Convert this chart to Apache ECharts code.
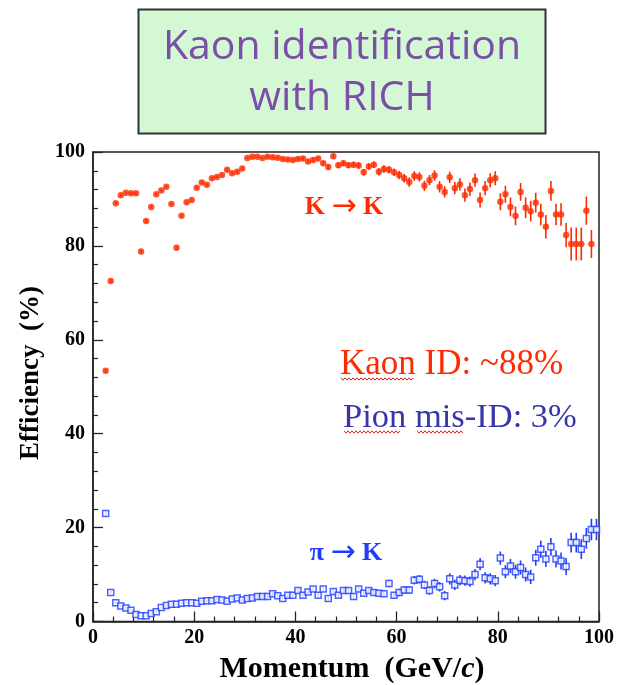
<!DOCTYPE html>
<html>
<head>
<meta charset="utf-8">
<script src="https://cdn.jsdelivr.net/npm/echarts/dist/echarts.min.js"></script>
<style>
html,body{margin:0;padding:0;background:#fff;}
#chart{width:617px;height:685px;}
</style>
</head>
<body>
<div id="chart"></div>
<script>
// ---- data ----
var momentum = [2.5,3.5,4.5,5.5,6.5,7.5,8.5,9.5,10.5,11.5,12.5,13.5,14.5,15.5,16.5,17.5,18.5,19.5,
  20.5,21.5,22.5,23.5,24.5,25.5,26.5,27.5,28.5,29.5,30.5,31.5,32.5,33.5,34.5,35.5,36.5,37.5,38.5,39.5,
  40.5,41.5,42.5,43.5,44.5,45.5,46.5,47.5,48.5,49.5,50.5,51.5,52.5,53.5,54.5,55.5,56.5,57.5,58.5,59.5,
  60.5,61.5,62.5,63.5,64.5,65.5,66.5,67.5,68.5,69.5,70.5,71.5,72.5,73.5,74.5,75.5,76.5,77.5,78.5,79.5,
  80.5,81.5,82.5,83.5,84.5,85.5,86.5,87.5,88.5,89.5,90.5,91.5,92.5,93.5,94.5,95.5,96.5,97.5,98.5,99.5];

var kaonEff = [53.4,72.5,89.1,90.8,91.3,91.2,91.2,78.8,85.3,88.3,91.0,91.8,92.6,88.9,79.6,86.4,89.3,89.8,
  92.4,93.5,93.0,94.4,94.7,95.1,96.2,95.5,95.8,96.5,98.7,99.0,99.0,98.7,99.0,98.9,98.8,98.5,98.4,98.3,
  98.5,98.6,98.0,98.3,98.6,97.6,96.8,99.1,97.2,97.6,97.2,97.3,97.1,95.7,96.9,97.3,95.8,96.4,96.2,95.7,
  95.1,94.4,93.6,94.9,94.7,92.8,94.0,95.0,92.6,91.5,94.6,92.3,93.1,90.8,92.1,94.0,89.8,92.3,94.0,94.4,
  89.4,91.0,88.3,86.4,91.5,88.1,87.4,89.2,86.7,84.1,91.7,86.7,86.7,82.3,80.4,80.4,80.4,87.5,80.4,null];

var kaonErr = [0.4,0.4,0.3,0.3,0.3,0.3,0.3,0.4,0.4,0.3,0.3,0.3,0.3,0.3,0.4,0.3,0.3,0.3,
  0.3,0.3,0.3,0.3,0.3,0.3,0.3,0.3,0.3,0.3,0.2,0.2,0.2,0.2,0.3,0.3,0.3,0.3,0.3,0.3,
  0.4,0.4,0.4,0.4,0.4,0.5,0.6,0.5,0.6,0.6,0.6,0.6,0.7,0.7,0.7,0.7,0.8,0.8,0.8,0.8,
  0.9,0.9,1.0,1.0,1.0,1.1,1.1,1.1,1.2,1.2,1.2,1.3,1.3,1.4,1.4,1.4,1.6,1.5,1.5,1.5,
  1.8,1.8,2.0,2.0,1.9,2.2,2.2,2.1,2.3,2.5,2.1,2.3,2.4,2.6,3.5,3.5,3.5,3.0,3.0,null];

var pionEff = [23.0,6.2,4.0,3.3,2.9,2.4,1.5,1.2,1.2,1.7,2.1,3.0,3.4,3.7,3.7,3.9,4.0,4.0,
  3.9,4.3,4.4,4.4,4.7,4.6,4.3,4.8,5.0,4.6,4.9,5.0,5.3,5.3,5.3,5.9,5.5,4.9,5.6,5.6,
  6.6,5.6,6.3,6.9,5.6,6.9,4.9,6.4,5.6,6.6,6.6,5.3,6.9,6.0,6.6,6.2,6.0,5.9,8.1,5.6,
  6.2,6.7,6.7,8.8,9.0,7.8,6.6,8.1,7.4,5.5,9.1,7.8,8.8,8.7,8.5,10.0,12.2,9.3,9.1,8.7,
  13.5,10.6,11.8,10.6,11.5,10.0,9.5,13.6,15.4,13.3,15.9,13.3,12.9,11.7,16.8,16.8,15.4,17.7,19.6,19.6];

var pionErr = [0.6,0.3,0.2,0.2,0.2,0.2,0.2,0.2,0.2,0.2,0.2,0.2,0.2,0.2,0.2,0.2,0.2,0.2,
  0.2,0.2,0.3,0.3,0.3,0.3,0.3,0.3,0.3,0.3,0.3,0.3,0.4,0.4,0.4,0.4,0.4,0.4,0.4,0.4,
  0.5,0.5,0.5,0.5,0.5,0.5,0.5,0.5,0.6,0.6,0.6,0.6,0.6,0.6,0.6,0.6,0.7,0.7,0.8,0.7,
  0.8,0.8,0.8,0.9,0.9,0.9,0.9,1.0,1.0,1.0,1.2,1.1,1.1,1.1,1.1,1.2,1.3,1.2,1.2,1.2,
  1.4,1.4,1.5,1.5,1.5,1.5,1.5,1.7,1.8,1.7,1.9,1.8,1.8,1.8,2.1,2.1,2.1,2.2,2.3,2.3];

var xTicks = [0,20,40,60,80,100];
var yTicks = [0,20,40,60,80,100];

var RED = '#ff2a00';
var BLUE = '#1f3cff';

function pts(xs, ys){
  var out = [];
  for (var i=0;i<xs.length;i++){ if (ys[i]!=null) out.push([xs[i], ys[i]]); }
  return out;
}
function bars(xs, ys, es){
  var out = [];
  for (var i=0;i<xs.length;i++){ if (ys[i]!=null) out.push([xs[i], ys[i]-es[i], ys[i]+es[i]]); }
  return out;
}
function errRender(color){
  return function(params, api){
    var x = api.value(0);
    var p1 = api.coord([x, api.value(1)]);
    var p2 = api.coord([x, api.value(2)]);
    return {type:'line', shape:{x1:p1[0],y1:p1[1],x2:p2[0],y2:p2[1]},
            style:{stroke:color, lineWidth:1.6}};
  };
}
// spell-check style wavy underline (decoration under annotation words)
function wavy(x0, x1, y, color){
  var p = [], k = 0;
  for (var x=x0; x<=x1; x+=2){ p.push([x, y + (k%2 ? 1.2 : -1.2)]); k++; }
  return {type:'polyline', shape:{points:p}, style:{stroke:color, lineWidth:1, fill:null}, z:10};
}

var tickFont = {fontFamily:'Liberation Serif', fontWeight:'bold', fontSize:20, color:'#000'};

var chart = echarts.init(document.getElementById('chart'), null, {renderer:'canvas'});
chart.setOption({
  animation:false,
  backgroundColor:'#fff',
  grid:{left:93, top:152, right:14, bottom:63.5, show:true, borderColor:'#222', borderWidth:1.5, backgroundColor:'transparent'},
  xAxis:{type:'value', min:xTicks[0], max:xTicks[xTicks.length-1], interval:20,
    axisLine:{show:true, onZero:false, lineStyle:{color:'#222', width:1.5}},
    axisTick:{show:true, inside:true, length:10, lineStyle:{color:'#222', width:1.3}},
    minorTick:{show:true, splitNumber:5, length:5, lineStyle:{color:'#222', width:1.2}},
    splitLine:{show:false},
    axisLabel:Object.assign({margin:6}, tickFont)},
  yAxis:{type:'value', min:yTicks[0], max:yTicks[yTicks.length-1], interval:20,
    axisLine:{show:true, onZero:false, lineStyle:{color:'#222', width:1.5}},
    axisTick:{show:true, inside:true, length:10, lineStyle:{color:'#222', width:1.3}},
    minorTick:{show:true, splitNumber:5, length:5, lineStyle:{color:'#222', width:1.2}},
    splitLine:{show:false},
    axisLabel:Object.assign({margin:8}, tickFont)},
  series:[
    {type:'custom', name:'K err', data:bars(momentum,kaonEff,kaonErr), renderItem:errRender(RED), z:2, silent:true, clip:true},
    {type:'custom', name:'pi err', data:bars(momentum,pionEff,pionErr), renderItem:errRender(BLUE), z:2, silent:true, clip:true},
    {type:'scatter', name:'K -> K', data:pts(momentum,kaonEff), symbol:'circle', symbolSize:6.5,
      itemStyle:{color:RED}, z:3},
    {type:'scatter', name:'pi -> K', data:pts(momentum,pionEff), symbol:'rect', symbolSize:6,
      itemStyle:{color:'#fff', borderColor:BLUE, borderWidth:1.5}, z:4}
  ],
  graphic:[
    {type:'rect', shape:{x:138.5, y:9.5, width:407, height:124},
      style:{fill:'#d4f8d4', stroke:'#333', lineWidth:2}},
    {type:'text', x:342, y:47, style:{text:'Kaon identification', font:'41px "Open Sans"', fill:'#7b4ea8', align:'center', verticalAlign:'middle'}},
    {type:'text', x:342, y:98, style:{text:'with RICH', font:'41px "Open Sans"', fill:'#7b4ea8', align:'center', verticalAlign:'middle'}},
    {type:'text', x:344, y:207, style:{text:'{k|K }{a|\u2192}{k| K}', align:'center', verticalAlign:'middle',
      rich:{k:{font:'bold 26px "Liberation Serif"', fill:RED}, a:{font:'30px "DejaVu Sans"', fill:RED}}}},
    {type:'text', x:346, y:553, style:{text:'{k|\u03c0 }{a|\u2192}{k| K}', align:'center', verticalAlign:'middle',
      rich:{k:{font:'bold 26px "Liberation Serif"', fill:BLUE}, a:{font:'30px "DejaVu Sans"', fill:BLUE}}}},
    {type:'text', x:340, y:365, style:{text:'Kaon ID: ~88%', font:'35px "Liberation Serif"', fill:'#ff2a00', align:'left', verticalAlign:'middle'}},
    {type:'text', x:343, y:418, style:{text:'Pion mis-ID: 3%', font:'34.5px "Liberation Serif"', fill:'#3636a8', align:'left', verticalAlign:'middle'}},
    wavy(341, 414, 379, '#e02020'),
    wavy(344, 400, 432, '#e02020'),
    wavy(417, 463, 432, '#e02020'),
    {type:'text', x:31, y:373, rotation:Math.PI/2, style:{text:'Efficiency  (%)', font:'bold 27px "Liberation Serif"', fill:'#000', align:'center', verticalAlign:'middle'}},
    {type:'text', x:352, y:669, style:{text:'{n|Momentum  (GeV/}{i|c}{n|)}', align:'center', verticalAlign:'middle',
      rich:{n:{font:'bold 30px "Liberation Serif"', fill:'#000'}, i:{font:'italic bold 30px "Liberation Serif"', fill:'#000'}}}}
  ]
});
</script>
</body>
</html>
